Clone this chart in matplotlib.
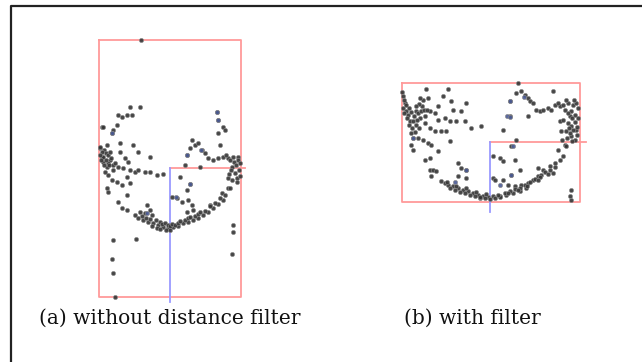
import matplotlib
matplotlib.use("Agg")
import matplotlib.pyplot as plt

# ---------------- data (pixel-space coordinates of the reference) ----------------
# panel (a): without distance filter
a_x = [141, 130, 140, 118, 122, 127, 132, 117, 113, 112, 102, 120, 133, 138, 150, 120, 125, 128,
       100, 102, 103, 110, 113, 115, 118, 107, 105, 108, 112, 117, 122, 107, 108, 130, 135, 138,
       145, 150, 157, 163, 123, 127, 130, 127, 118, 122, 127, 147, 150, 145, 135, 138, 143, 148,
       153, 158, 163, 168, 173, 178, 183, 188, 193, 198, 203, 208, 213, 218, 223, 222, 228,
       217, 218, 223, 225, 218, 220, 192, 195, 198, 190, 202, 205, 208, 213, 218, 223, 228, 233,
       238, 187, 185, 200, 232, 235, 237, 232, 228, 230, 180, 190, 187, 172, 177, 182, 188, 187,
       193, 192, 210, 113, 136, 112, 113, 115, 233, 233, 232, 103, 100, 103, 108,
       140, 142, 146, 150, 152, 156, 160, 162, 165, 168, 170, 172, 175, 178, 180, 185, 188, 190,
       195, 198, 200, 205, 210, 215, 220, 225, 152, 157, 160, 166, 170,
       104, 106, 108, 110, 111, 106, 109, 113, 104, 102, 107, 100, 101,
       226, 230, 234, 238, 236, 239, 240, 237, 231, 229, 240]
a_y = [40, 107, 107, 115, 117, 115, 115, 125, 130, 133, 127, 143, 145, 152, 157, 152, 158, 162,
       148, 157, 162, 160, 165, 163, 167, 167, 172, 175, 180, 182, 185, 188, 192, 170, 172, 170,
       172, 172, 175, 174, 168, 177, 183, 195, 202, 208, 210, 205, 210, 213, 215, 218, 220, 222,
       223, 225, 227, 228, 227, 226, 223, 222, 220, 218, 215, 212, 208, 204, 200, 193, 188,
       112, 120, 127, 130, 133, 145, 140, 145, 143, 148, 150, 153, 158, 160, 158, 157, 158, 157,
       157, 155, 165, 167, 167, 173, 178, 180, 178, 188, 177, 184, 190, 197, 198, 202, 200, 212,
       210, 205, 205, 240, 239, 259, 273, 297, 225, 232, 254, 127, 147, 157, 163,
       212, 216, 218, 219, 215, 220, 222, 224, 223, 225, 226, 224, 225, 223, 221, 220, 218, 217,
       216, 214, 212, 211, 206, 203, 198, 195, 226, 228, 229, 230, 230,
       150, 153, 155, 152, 158, 160, 165, 170, 165, 152, 145, 155, 160,
       155, 160, 162, 160, 165, 170, 176, 182, 170, 174, 163]
a_blue_x = [217, 218, 190, 187, 112, 147, 201, 176]
a_blue_y = [112, 120, 184, 155, 133, 213, 150, 197]

# panel (b): with filter
b_x = [402, 426, 448, 443, 428, 451, 466, 438, 453, 461, 405, 403, 406, 408, 416, 418, 421, 420,
       425, 430, 435, 438, 445, 450, 456, 465, 471, 481, 410, 413, 416, 425, 430, 435, 441, 446,
       411, 413, 418, 423, 428, 431, 450, 411, 413, 438, 430, 425, 430, 433, 436, 431, 458, 461,
       466, 458, 466, 441, 448, 453, 458, 463, 468, 473, 478, 483, 488, 480, 493,
       518, 516, 521, 525, 528, 530, 533, 536, 540, 543, 548, 551, 553, 510, 528, 510, 503, 555,
       560, 563, 568, 573, 576, 571, 570, 575, 560, 568, 571, 576, 566, 561, 571, 575, 565, 516,
       511, 493, 500, 503, 515, 520, 538, 543, 550, 555, 558, 553, 511, 495, 503, 508, 515, 521,
       528, 533, 538, 541, 526, 520, 513, 506, 500, 493, 571, 570, 571,
       403, 404, 406, 409, 411, 414, 417, 404, 407, 409, 412, 415, 419, 422, 424, 419, 416, 427,
       423, 420,
       445, 450, 455, 460, 465, 470, 475, 480, 485, 490, 495, 500, 505, 510, 515, 520, 525, 530,
       535, 540, 545, 550, 555, 548, 538, 527, 518, 508, 498, 486, 476, 466, 456, 447, 560, 563,
       565, 568, 572, 575, 577, 573, 570, 567, 572, 577, 578, 578, 574, 566, 558, 563, 569, 562,
       566]
b_y = [92, 89, 89, 96, 98, 101, 103, 106, 110, 111, 103, 108, 111, 115, 111, 113, 111, 118,
       116, 111, 113, 120, 118, 121, 121, 121, 128, 126, 121, 121, 125, 123, 128, 131, 131, 131,
       133, 138, 138, 140, 143, 145, 141, 145, 150, 151, 158, 160, 170, 170, 171, 176, 163, 168,
       170, 176, 178, 181, 185, 186, 188, 190, 191, 193, 195, 196, 197, 198, 178,
       83, 93, 91, 95, 98, 101, 103, 110, 111, 110, 108, 110, 91, 101, 116, 116, 130, 105,
       106, 105, 103, 105, 103, 111, 116, 115, 121, 123, 126, 130, 131, 131, 136, 140, 145, 140,
       146, 156, 158, 161, 160, 170, 168, 170, 166, 163, 150, 173, 175, 180, 180, 185, 186, 185,
       183, 180, 176, 175, 188, 191, 193, 195, 196, 196, 190, 196, 200,
       96, 100, 105, 108, 112, 116, 120, 113, 118, 125, 128, 132, 128, 106, 110, 104, 106, 110,
       100, 98,
       183, 188, 190, 192, 193, 195, 196, 197, 198, 199, 198, 197, 193, 191, 189, 188, 185, 182,
       179, 177, 172, 170, 167, 174, 180, 186, 190, 193, 195, 194, 192, 188, 186, 182, 160, 156,
       110, 113, 118, 122, 127, 130, 133, 138, 141, 135, 118, 108, 100, 100, 103, 120, 128, 140,
       146]
b_blue_x = [507, 510, 513, 511, 413, 466, 510, 455, 500, 524]
b_blue_y = [116, 117, 146, 175, 138, 170, 101, 182, 185, 97]

# bounding boxes [x0, y0, x1, y1] and frame axes (origin, red x-axis end, blue y-axis end)
box_a = [99, 40, 241, 297]
frame_a = [170, 168, 245, 302]
box_b = [402, 83, 580, 202]
frame_b = [490, 142, 586, 212]

caption_a = "(a) without distance filter"
caption_b = "(b) with filter"
caption_x = [170, 472]
caption_y = 324

# ---------------- drawing ----------------
fig = plt.figure(figsize=(6.42, 3.62), dpi=100)
ax = fig.add_axes([0, 0, 1, 1])
ax.set_xlim(0, 642)
ax.set_ylim(362, 0)
ax.axis("off")

# outer frame (only the left and top edges are visible)
ax.plot([11, 11, 642], [362, 6, 6], color="#222222", lw=1.6, solid_capstyle="butt")

red = "#ff9a9a"
blue = "#9a9aff"
for box, frame in ((box_a, frame_a), (box_b, frame_b)):
    x0, y0, x1, y1 = box
    ax.plot([x0, x1, x1, x0, x0], [y0, y0, y1, y1, y0], color=red, lw=1.3)
    ox, oy, rx, by = frame
    ax.plot([ox, rx], [oy, oy], color=red, lw=1.3)
    ax.plot([ox, ox], [oy, by], color=blue, lw=1.3)

pt_kw = dict(s=9, edgecolors="#8a8a8a", linewidths=0.5, zorder=3)
ax.scatter(a_x, a_y, c="#333333", alpha=0.9, **pt_kw)
ax.scatter(a_blue_x, a_blue_y, c="#4a5a95", alpha=0.9, **pt_kw)
ax.scatter(b_x, b_y, c="#333333", alpha=0.9, **pt_kw)
ax.scatter(b_blue_x, b_blue_y, c="#4a5a95", alpha=0.9, **pt_kw)

txt_kw = dict(family="DejaVu Serif", fontsize=14.5, color="#111111",
              ha="center", va="baseline")
ax.text(caption_x[0], caption_y, caption_a, **txt_kw)
ax.text(caption_x[1], caption_y, caption_b, **txt_kw)

fig.savefig("out.png", dpi=100)
